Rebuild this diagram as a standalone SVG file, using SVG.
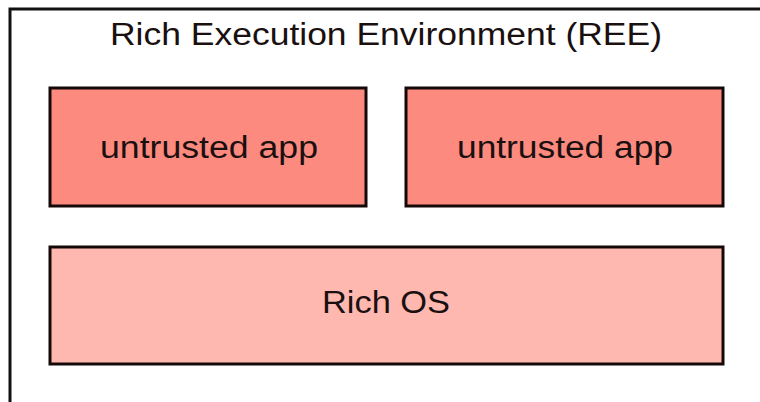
<svg xmlns="http://www.w3.org/2000/svg" width="760" height="402" viewBox="0 0 760 402">
<style>
.box{stroke:#140808;stroke-width:3}
.app{fill:#fd8a7f}
.os{fill:#ffb8b0}
.lbl{font-family:"Liberation Sans",Arial,sans-serif;font-size:31px;fill:#1a1010;text-anchor:middle}
</style>
<rect width="760" height="402" fill="#ffffff"/>
<g id="ree">
<rect x="10" y="9" width="770" height="410" fill="none" stroke="#111" stroke-width="3"/>
<text class="lbl" x="386" y="45" textLength="552" lengthAdjust="spacingAndGlyphs">Rich Execution Environment (REE)</text>
</g>
<g id="app1">
<rect class="box app" x="50" y="88" width="316" height="118"/>
<text class="lbl" x="209" y="158" textLength="218" lengthAdjust="spacingAndGlyphs">untrusted app</text>
</g>
<g id="app2">
<rect class="box app" x="406" y="88" width="317" height="118"/>
<text class="lbl" x="565" y="158" textLength="216" lengthAdjust="spacingAndGlyphs">untrusted app</text>
</g>
<g id="richos">
<rect class="box os" x="50" y="247" width="673" height="117"/>
<text class="lbl" x="386" y="313" textLength="128" lengthAdjust="spacingAndGlyphs">Rich OS</text>
</g>
<g id="connectors"></g>
</svg>
